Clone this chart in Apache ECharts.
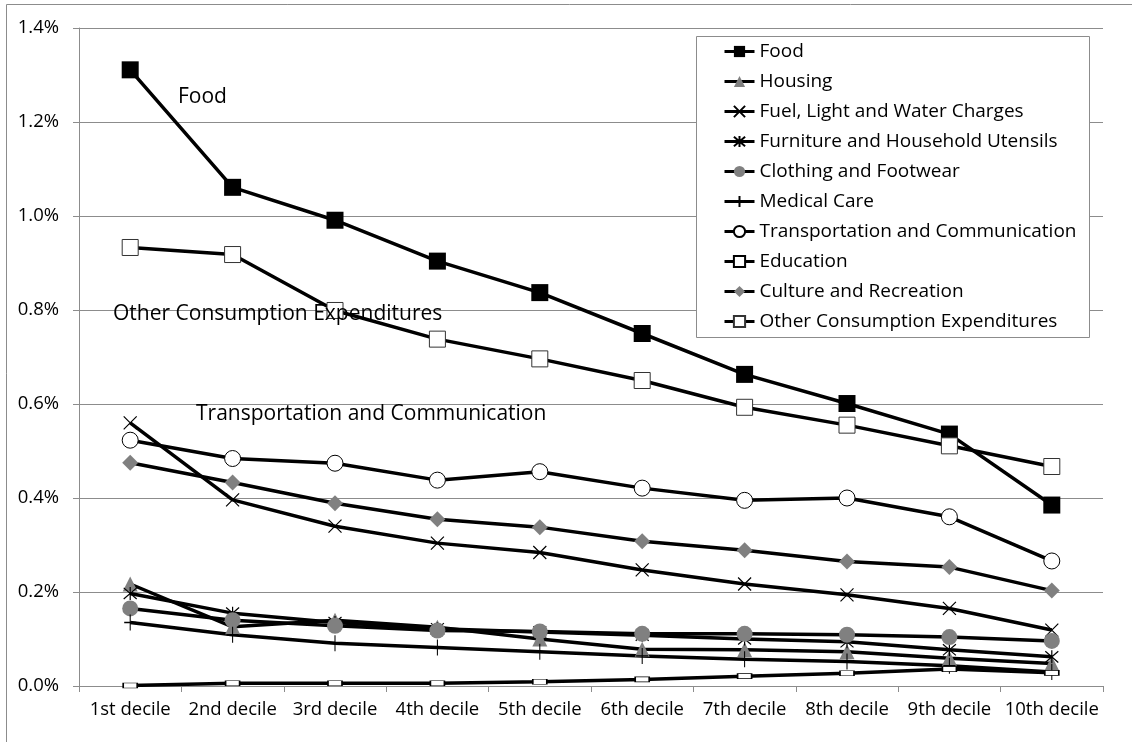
<!DOCTYPE html>
<html>
<head>
<meta charset="utf-8">
<script src="https://cdn.jsdelivr.net/npm/echarts@6/dist/echarts.min.js"></script>
<style>
  html, body { margin: 0; padding: 0; background: #fff; }
  #chart { width: 1132px; height: 742px; }
</style>
</head>
<body>
<div id="chart"></div>
<script>
// Share of expenditure by income decile (%)
const categories = ['1st decile', '2nd decile', '3rd decile', '4th decile', '5th decile',
                    '6th decile', '7th decile', '8th decile', '9th decile', '10th decile'];
const yTicks = [0, 0.2, 0.4, 0.6, 0.8, 1.0, 1.2, 1.4];

const food      = [1.311, 1.061, 0.991, 0.904, 0.837, 0.750, 0.663, 0.601, 0.536, 0.385];
const housing   = [0.217, 0.126, 0.140, 0.125, 0.100, 0.078, 0.077, 0.073, 0.059, 0.048];
const fuel      = [0.560, 0.396, 0.340, 0.304, 0.284, 0.247, 0.217, 0.194, 0.165, 0.119];
const furniture = [0.197, 0.155, 0.135, 0.122, 0.115, 0.108, 0.100, 0.094, 0.077, 0.062];
const clothing  = [0.165, 0.140, 0.128, 0.118, 0.116, 0.111, 0.111, 0.109, 0.104, 0.096];
const medical   = [0.135, 0.109, 0.091, 0.082, 0.073, 0.064, 0.057, 0.052, 0.043, 0.030];
const transport = [0.523, 0.484, 0.474, 0.438, 0.456, 0.421, 0.395, 0.400, 0.360, 0.266];
const education = [0.001, 0.006, 0.006, 0.006, 0.009, 0.014, 0.021, 0.027, 0.036, 0.028];
const culture   = [0.475, 0.433, 0.389, 0.355, 0.338, 0.308, 0.289, 0.265, 0.253, 0.203];
const other     = [0.933, 0.918, 0.799, 0.738, 0.696, 0.650, 0.593, 0.555, 0.511, 0.467];

const FONT = '"Open Sans", "Noto Sans", sans-serif';
const GRID_GRAY = '#8c8c8c';
const MARK_GRAY = '#808080';

const X_PATH = 'path://M0,0L12,12M12,0L0,12';
const STAR_PATH = 'path://M0,1L12,13M12,1L0,13M6,0L6,14';
const PLUS_PATH = 'path://M0,8L12,8M6,0L6,16';

function lineSeries(name, data, symbol, symbolSize, itemStyle) {
  return {
    name: name,
    type: 'line',
    data: data,
    symbol: symbol,
    symbolSize: symbolSize,
    showSymbol: true,
    showAllSymbol: true,
    color: '#000',
    lineStyle: { color: '#000', width: 3.5 },
    itemStyle: itemStyle,
    emphasis: { disabled: true }
  };
}

const series = [
  lineSeries('Food', food, 'rect', 17, { color: '#000', borderWidth: 0 }),
  lineSeries('Housing', housing, 'triangle', 15, { color: MARK_GRAY, borderWidth: 0 }),
  lineSeries('Fuel, Light and Water Charges', fuel, X_PATH, 13,
             { color: '#000', borderColor: '#000', borderWidth: 1.2 }),
  lineSeries('Furniture and Household Utensils', furniture, STAR_PATH, 13,
             { color: '#000', borderColor: '#000', borderWidth: 1.2 }),
  lineSeries('Clothing and Footwear', clothing, 'circle', 16, { color: MARK_GRAY, borderWidth: 0 }),
  lineSeries('Medical Care', medical, PLUS_PATH, [12, 16],
             { color: '#000', borderColor: '#000', borderWidth: 1.2 }),
  lineSeries('Transportation and Communication', transport, 'circle', 16,
             { color: '#fff', borderColor: '#000', borderWidth: 1 }),
  lineSeries('Education', education, 'rect', [14, 5],
             { color: '#fff', borderColor: '#000', borderWidth: 1 }),
  lineSeries('Culture and Recreation', culture, 'diamond', 16, { color: MARK_GRAY, borderWidth: 0 }),
  lineSeries('Other Consumption Expenditures', other, 'rect', 16,
             { color: '#fff', borderColor: '#333', borderWidth: 1 })
];

const chart = echarts.init(document.getElementById('chart'), null, { renderer: 'canvas' });

chart.setOption({
  animation: false,
  backgroundColor: '#fff',
  textStyle: { fontFamily: FONT, color: '#000' },
  grid: { left: 79, right: 29, top: 28, bottom: 56, containLabel: false },
  xAxis: {
    type: 'category',
    data: categories,
    boundaryGap: true,
    axisLine: { lineStyle: { color: GRID_GRAY, width: 1 } },
    axisTick: { show: true, length: 6, lineStyle: { color: GRID_GRAY } },
    axisLabel: { fontSize: 18.5, color: '#000', fontFamily: FONT, margin: 14, interval: 0 },
    splitLine: { show: false }
  },
  yAxis: {
    type: 'value',
    min: yTicks[0],
    max: yTicks[yTicks.length - 1],
    interval: 0.2,
    axisLine: { show: true, lineStyle: { color: GRID_GRAY, width: 1 } },
    axisTick: { show: true, length: 6, lineStyle: { color: GRID_GRAY } },
    axisLabel: {
      fontSize: 18.5, color: '#000', fontFamily: FONT, margin: 20,
      formatter: v => v.toFixed(1) + '%'
    },
    splitLine: { show: true, lineStyle: { color: GRID_GRAY, width: 1 } }
  },
  legend: {
    orient: 'vertical',
    left: 723,
    top: 42,
    z: 10,
    padding: 0,
    itemGap: 11,
    itemWidth: 30,
    itemHeight: 14,
    lineStyle: { width: 3 },
    textStyle: { fontSize: 19, fontFamily: FONT, color: '#000' },
    data: series.map(s => s.name)
  },
  graphic: [
    // outer frame
    { type: 'line', silent: true, z: 0,
      shape: { x1: 6.5, y1: 4.5, x2: 1132, y2: 4.5 }, style: { stroke: GRID_GRAY, lineWidth: 1 } },
    { type: 'line', silent: true, z: 0,
      shape: { x1: 6.5, y1: 4.5, x2: 6.5, y2: 742 }, style: { stroke: GRID_GRAY, lineWidth: 1 } },
    // legend frame, above the lines and below the legend entries
    { type: 'rect', silent: true, z: 3,
      shape: { x: 696.5, y: 36.5, width: 393, height: 301 },
      style: { fill: '#fff', stroke: GRID_GRAY, lineWidth: 1 } },
    // series annotations
    { type: 'text', silent: true, z: 20, x: 178, y: 97,
      style: { text: 'Food', font: '21px ' + FONT, fill: '#000', verticalAlign: 'middle' } },
    { type: 'text', silent: true, z: 20, x: 113, y: 314,
      style: { text: 'Other Consumption Expenditures', font: '21px ' + FONT, fill: '#000', verticalAlign: 'middle' } },
    { type: 'text', silent: true, z: 20, x: 196, y: 414,
      style: { text: 'Transportation and Communication', font: '21px ' + FONT, fill: '#000', verticalAlign: 'middle' } }
  ],
  series: series
});
</script>
</body>
</html>
